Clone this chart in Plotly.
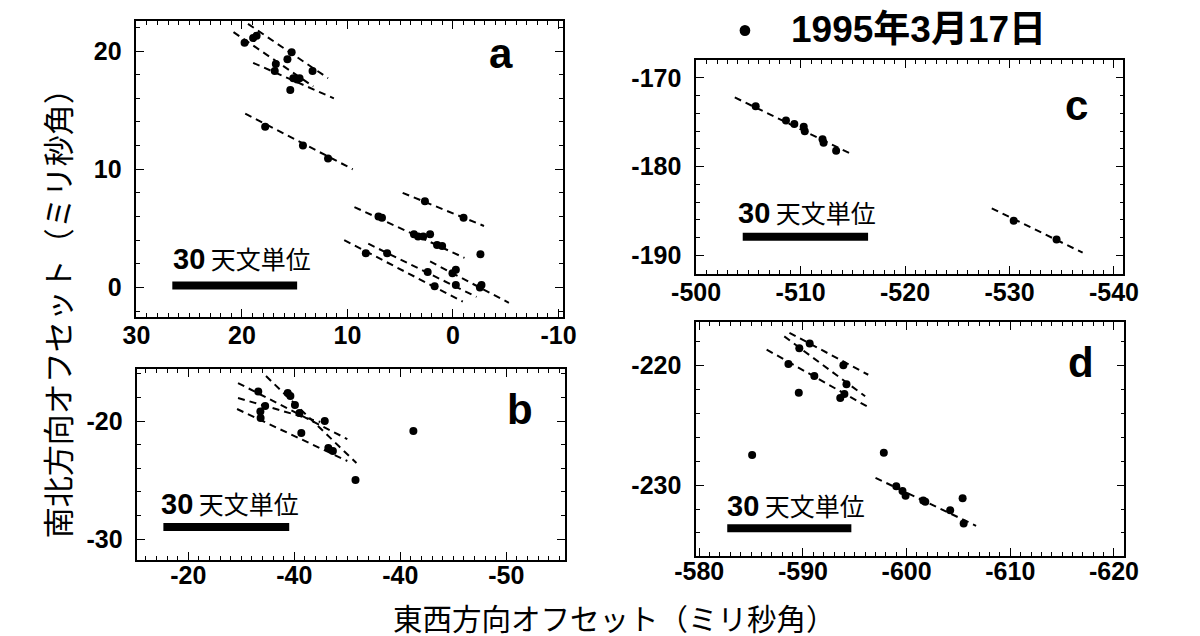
import plotly.graph_objects as go

W, H = 1200, 636

# ---------------- data ----------------
# panel a
a_x = [19.75, 18.94, 18.61, 15.69, 15.29, 13.31, 16.79, 16.89, 15.13, 14.54,
       14.77, 15.42, 17.80, 14.22, 11.84, 2.66, -1.0, 7.06, 6.73, 3.70,
       3.31, 2.82, 2.17, 1.51, 1.03, -2.6, 8.26, 6.24, 2.40, 1.74,
       0.05, -0.27, -0.27, -2.55, -2.7]
a_y = [20.7, 21.1, 21.3, 19.3, 19.9, 18.3, 18.9, 18.3, 17.7, 17.7,
       17.6, 16.7, 13.6, 12.0, 10.9, 7.3, 5.9, 6.0, 5.9, 4.5,
       4.3, 4.3, 4.5, 3.6, 3.5, 2.8, 2.9, 2.9, 1.3, 0.1,
       1.2, 1.5, 0.2, 0.0, 0.2]
a_fit_x0 = [19.43, 20.8, 18.94, 19.69, 4.77, 9.34, 10.31, 8.03, 2.17]
a_fit_y0 = [22.3, 21.6, 19.0, 14.7, 8.0, 6.8, 4.0, 3.7, 2.2]
a_fit_x1 = [11.84, 13.24, 11.29, 9.50, -2.94, -1.09, -0.93, -2.23, -5.3]
a_fit_y1 = [17.7, 17.0, 16.0, 10.0, 5.2, 2.5, -1.2, -0.8, -1.3]

# panel b
b_x = [-26.6, -27.25, -26.8, -26.82, -29.38, -29.63, -30.06, -30.49, -30.66,
       -32.87, -33.21, -33.64, -35.77, -41.23]
b_y = [-17.5, -18.73, -19.2, -19.75, -17.63, -17.88, -18.64, -19.32, -21.02,
       -20.0, -22.29, -22.54, -25.0, -20.85]
b_fit_x0 = [-24.69, -27.33, -24.69, -24.6]
b_fit_y0 = [-16.78, -16.19, -18.05, -18.98]
b_fit_x1 = [-35.0, -35.86, -32.45, -35.0]
b_fit_y1 = [-21.53, -23.56, -20.08, -23.39]

# panel c
c_x = [-505.7, -508.6, -509.4, -510.3, -510.4, -512.1, -512.2, -513.4, -530.4, -534.5]
c_y = [-173.2, -174.8, -175.2, -175.5, -176.0, -176.9, -177.3, -178.2, -186.1, -188.2]
c_fit_x0 = [-503.7, -528.3]
c_fit_y0 = [-172.2, -184.7]
c_fit_x1 = [-514.9, -537.0]
c_fit_y1 = [-178.6, -189.7]

# panel d
d_x = [-590.65, -589.65, -588.6, -591.1, -589.6, -593.9, -594.2, -594.0, -593.6,
       -585.1, -597.8, -599.0, -599.6, -599.9, -601.6, -601.8, -604.2, -605.4, -605.5]
d_y = [-218.2, -218.6, -219.9, -220.9, -222.3, -220.0, -221.6, -222.4, -222.75,
       -227.5, -227.3, -230.1, -230.5, -230.9, -231.3, -231.4, -232.1, -231.1, -233.2]
d_fit_x0 = [-588.7, -588.2, -586.5, -597.0]
d_fit_y0 = [-217.3, -217.6, -218.7, -229.4]
d_fit_x1 = [-596.3, -596.0, -596.3, -606.7]
d_fit_y1 = [-220.8, -222.6, -223.5, -233.4]

# tick labels
a_xticks = [30, 20, 10, 0, -10]
a_yticks = [0, 10, 20]
b_xticks = [-20, -30, -40, -50]
b_xticklabels = ["-20", "-40", "-40", "-50"]
b_yticks = [-20, -30]
c_xticks = [-500, -510, -520, -530, -540]
c_yticks = [-170, -180, -190]
d_xticks = [-580, -590, -600, -610, -620]
d_yticks = [-220, -230]

title_text = "1995年3月17日"
xtitle = "東西方向オフセット（ミリ秒角）"
ytitle = "南北方向オフセット（ミリ秒角）"
scale_num = "30"
scale_unit = "天文単位"

# ---------------- helpers ----------------
def px(x):
    return x / W


def py(y):
    return 1 - y / H


def fit_xy(x0, y0, x1, y1):
    xs, ys = [], []
    for a, b, c, d in zip(x0, y0, x1, y1):
        xs += [a, c, None]
        ys += [b, d, None]
    return xs, ys


SANS = "Liberation Sans, Arial, sans-serif"
TICKFONT = dict(family=SANS, size=25, color="black", weight="bold")


def axis(rng, domain, anchor, tickvals, ticktext=None, minor_dtick=1, standoff=8):
    return dict(
        range=rng, domain=domain, anchor=anchor,
        tickmode="array", tickvals=tickvals,
        ticktext=ticktext if ticktext is not None else [str(v) for v in tickvals],
        ticks="inside", ticklen=8, tickwidth=1.3, tickcolor="black",
        minor=dict(ticks="inside", ticklen=4, tickwidth=1, tickcolor="black", dtick=minor_dtick, tick0=0),
        showline=True, linecolor="black", linewidth=1.5, mirror="allticks",
        showgrid=False, zeroline=False,
        tickfont=TICKFONT, ticklabelstandoff=standoff,
    )


fig = go.Figure()

panels = [
    ("x", "y", a_x, a_y, (a_fit_x0, a_fit_y0, a_fit_x1, a_fit_y1)),
    ("x2", "y2", b_x, b_y, (b_fit_x0, b_fit_y0, b_fit_x1, b_fit_y1)),
    ("x3", "y3", c_x, c_y, (c_fit_x0, c_fit_y0, c_fit_x1, c_fit_y1)),
    ("x4", "y4", d_x, d_y, (d_fit_x0, d_fit_y0, d_fit_x1, d_fit_y1)),
]
for xa, ya, xs, ys, fit in panels:
    fx, fy = fit_xy(*fit)
    fig.add_trace(go.Scatter(x=fx, y=fy, xaxis=xa, yaxis=ya, mode="lines",
                             line=dict(color="black", width=2, dash="7px,5px"),
                             hoverinfo="skip", showlegend=False))
    fig.add_trace(go.Scatter(x=xs, y=ys, xaxis=xa, yaxis=ya, mode="markers",
                             marker=dict(color="black", size=8),
                             showlegend=False))

# panel boxes (pixel geometry)
A = dict(x=[107, 548], y=[13, 309])
B = dict(x=[108, 550], y=[361, 552])
C = dict(x=[686, 1128], y=[52, 266])
D = dict(x=[686, 1129], y=[314, 548])


def dom(box):
    return [px(box["x"][0]), px(box["x"][1])], [py(box["y"][1]), py(box["y"][0])]


ax_dom, ay_dom = dom(A)
bx_dom, by_dom = dom(B)
cx_dom, cy_dom = dom(C)
dx_dom, dy_dom = dom(D)

fig.update_layout(
    width=W, height=H,
    margin=dict(l=0, r=0, t=0, b=0),
    paper_bgcolor="white", plot_bgcolor="white",
    showlegend=False,
    xaxis=axis([30, -10.4], ax_dom, "y", a_xticks, minor_dtick=1, standoff=-5),
    yaxis=axis([-2.5, 22.54], ay_dom, "x", a_yticks, minor_dtick=2),
    xaxis2=axis([-15.2, -55.5], bx_dom, "y2", b_xticks, b_xticklabels, minor_dtick=1, standoff=-8),
    yaxis2=axis([-31.78, -15.59], by_dom, "x2", b_yticks, minor_dtick=2),
    xaxis3=axis([-500.0, -540.9], cx_dom, "y3", c_xticks, minor_dtick=1, standoff=-5),
    yaxis3=axis([-192.1, -167.98], cy_dom, "x3", c_yticks, minor_dtick=2),
    xaxis4=axis([-579.7, -621.0], dx_dom, "y4", d_xticks, minor_dtick=1, standoff=-8),
    yaxis4=axis([-235.92, -216.4], dy_dom, "x4", d_yticks, minor_dtick=2),
)

ann = []
# panel letters
LETTER = dict(family=SANS, size=42, color="black", weight="bold")
for t, x, y in [("a", 484, 46), ("b", 504, 401), ("c", 1079, 98), ("d", 1084, 354)]:
    ann.append(dict(text=t, x=px(x), y=py(y), xref="paper", yref="paper",
                    xanchor="center", yanchor="middle", showarrow=False, font=LETTER))

# scale-bar labels
scale_html = ('<span style="font-family:Liberation Sans;font-weight:bold;'
              'font-size:29px">' + scale_num + '</span> ' + scale_unit)
SB = dict(family="Noto Sans CJK JP, sans-serif", size=25, color="black")
for x, y in [(143, 250), (130, 495), (727, 204), (716, 497)]:
    ann.append(dict(text=scale_html, x=px(x), y=py(y), xref="paper", yref="paper",
                    xanchor="left", yanchor="middle", showarrow=False, font=SB))

# title
ann.append(dict(text="<b>" + title_text + "</b>", x=px(782), y=py(21), xref="paper", yref="paper",
                xanchor="left", yanchor="middle", showarrow=False,
                font=dict(family="Liberation Sans, Noto Sans CJK JP, sans-serif", size=37, color="black")))

# axis titles
ann.append(dict(text=xtitle, x=px(602), y=py(609), xref="paper", yref="paper",
                xanchor="center", yanchor="middle", showarrow=False,
                font=dict(family="Noto Sans CJK JP, sans-serif", size=29.5, color="black")))
ann.append(dict(text=ytitle, x=px(24), y=py(298), xref="paper", yref="paper",
                xanchor="center", yanchor="middle", showarrow=False, textangle=-90,
                font=dict(family="Noto Sans CJK JP, sans-serif", size=31, color="black")))
fig.update_layout(annotations=ann)

shapes = []
# title bullet
shapes.append(dict(type="circle", xref="paper", yref="paper",
                   x0=px(731), x1=px(742), y0=py(28), y1=py(17),
                   fillcolor="black", line=dict(color="black", width=0)))
# 30 AU scale bars (data coordinates)
for xr, yr, x0, x1, y in [("x", "y", 26.6, 14.77, 0.17),
                          ("x2", "y2", -17.65, -29.52, -28.98),
                          ("x3", "y3", -504.46, -516.46, -187.9),
                          ("x4", "y4", -582.7, -594.67, -233.6)]:
    shapes.append(dict(type="line", xref=xr, yref=yr, x0=x0, x1=x1, y0=y, y1=y,
                       line=dict(color="black", width=8)))
fig.update_layout(shapes=shapes)

fig.write_html("out.html")
